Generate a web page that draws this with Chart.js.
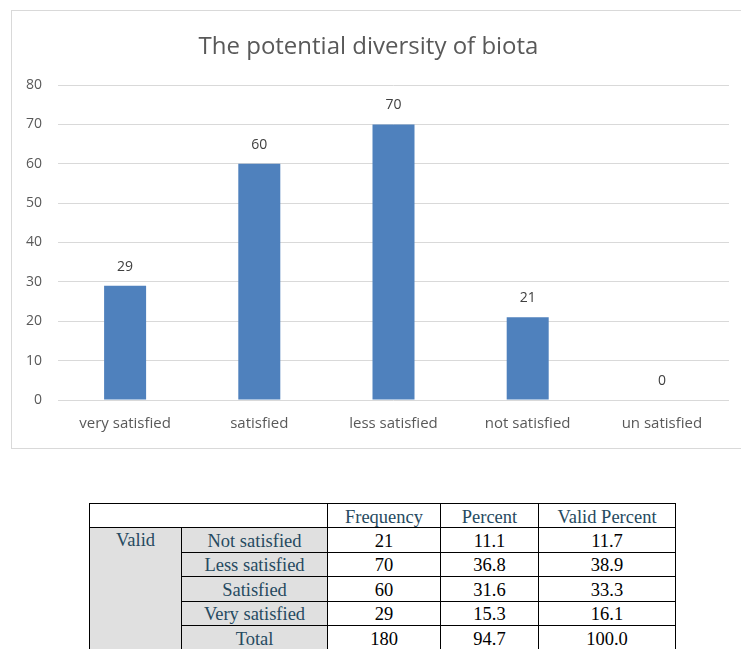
<!DOCTYPE html>
<html>
<head>
<meta charset="utf-8">
<script src="https://cdn.jsdelivr.net/npm/chart.js@4/dist/chart.umd.min.js"></script>
<style>
  html, body { margin: 0; padding: 0; background: #fff; width: 741px; height: 649px; overflow: hidden; }
  #frame { position: absolute; left: 11px; top: 10px; width: 760px; height: 437px; border: 1px solid #d9d9d9; }
  #wrap { position: absolute; left: 0; top: 0; width: 741px; height: 450px; }
  table { position: absolute; left: 89px; top: 503px; border-collapse: collapse; table-layout: fixed;
          font-family: "Liberation Serif", "Times New Roman", serif; font-size: 18.5px; }
  td { border: 1px solid #000; padding: 0; text-align: center; line-height: 20px; height: 24.5px; color: #000; white-space: nowrap; padding-top: 2px; box-sizing: border-box; }
  tr:first-child td { height: 24px; }
  td.lab { color: #264a60; }
  td.g { background: #e0e0e0; }
  td.valid { vertical-align: top; }
</style>
</head>
<body>
<div id="frame"></div>
<div id="wrap"><canvas id="c" width="741" height="450"></canvas></div>
<table id="tbl">
  <colgroup><col style="width:92px"><col style="width:146px"><col style="width:113px"><col style="width:98px"><col style="width:137px"></colgroup>
</table>
<script>
const chartTitle = "The potential diversity of biota";
const categories = ["very satisfied", "satisfied", "less satisfied", "not satisfied", "un satisfied"];
const values = [29, 60, 70, 21, 0];
const yTicks = [0, 10, 20, 30, 40, 50, 60, 70, 80];

const tableHeaders = ["Frequency", "Percent", "Valid Percent"];
const tableGroup = "Valid";
const tableRows = ["Not satisfied", "Less satisfied", "Satisfied", "Very satisfied", "Total"];
const tableFrequency = ["21", "70", "60", "29", "180"];
const tablePercent = ["11.1", "36.8", "31.6", "15.3", "94.7"];
const tableValidPercent = ["11.7", "38.9", "33.3", "16.1", "100.0"];

// build table
const tbl = document.getElementById('tbl');
let h = '<tr><td colspan="2"></td>' + tableHeaders.map(t => '<td class="lab">' + t + '</td>').join('') + '</tr>';
tableRows.forEach((r, i) => {
  h += '<tr>';
  if (i === 0) h += '<td class="lab g valid" rowspan="' + tableRows.length + '">' + tableGroup + '</td>';
  h += '<td class="lab g">' + r + '</td><td>' + tableFrequency[i] + '</td><td>' + tablePercent[i] + '</td><td>' + tableValidPercent[i] + '</td></tr>';
});
tbl.insertAdjacentHTML('beforeend', h);

const FONT = "'Open Sans', sans-serif";

const valueLabels = {
  id: 'valueLabels',
  afterDatasetsDraw(chart) {
    const ctx = chart.ctx;
    const meta = chart.getDatasetMeta(0);
    ctx.save();
    ctx.font = "14px " + FONT;
    ctx.fillStyle = "#404040";
    ctx.textAlign = "center";
    ctx.textBaseline = "middle";
    meta.data.forEach((bar, i) => {
      ctx.fillText(String(values[i]), bar.x, bar.y - 19);
    });
    ctx.restore();
  }
};

new Chart(document.getElementById('c'), {
  type: 'bar',
  data: {
    labels: categories,
    datasets: [{
      data: values,
      backgroundColor: '#4f81bd',
      borderWidth: 0,
      categoryPercentage: 1.0,
      barPercentage: 0.313
    }]
  },
  options: {
    responsive: false,
    animation: false,
    devicePixelRatio: 1,
    layout: { padding: { left: 8, right: 12, top: 0, bottom: 0 } },
    plugins: {
      legend: { display: false },
      tooltip: { enabled: false },
      title: {
        display: true,
        text: chartTitle,
        color: '#595959',
        font: { family: FONT, size: 24, weight: 'normal', lineHeight: 1.2 },
        padding: { top: 33, bottom: 23.2 }
      }
    },
    scales: {
      x: {
        grid: { display: false, drawTicks: false },
        border: { display: false },
        ticks: { color: '#595959', font: { family: FONT, size: 15 }, padding: 15, maxRotation: 0 },
        afterFit(scale) { scale.height = 50; }
      },
      y: {
        min: 0, max: 80,
        afterBuildTicks(scale) { scale.ticks = yTicks.map(v => ({ value: v })); },
        grid: { color: '#d9d9d9', lineWidth: 1, drawTicks: false },
        border: { display: false },
        ticks: { color: '#595959', font: { family: FONT, size: 14 }, padding: 16 },
        afterFit(scale) { scale.width = 50; }
      }
    }
  },
  plugins: [valueLabels]
});
</script>
</body>
</html>
